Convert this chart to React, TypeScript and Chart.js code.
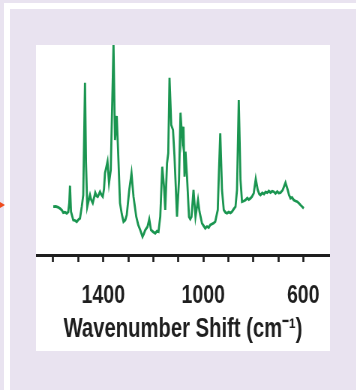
import React, { useEffect, useRef } from "react";
import { Chart, registerables } from "chart.js";

Chart.register(...registerables);

// Raman spectrum: wavenumber shift (cm-1) and relative intensity
const wavenumbers = [
  1600, 1590, 1580, 1573, 1566, 1560, 1553, 1546, 1540, 1536, 1533, 1529, 1520, 1513, 1506, 1499, 1493,
  1486, 1480, 1476, 1473, 1469, 1464, 1456, 1453, 1448, 1442, 1437, 1432, 1427, 1422, 1417, 1413,
  1407, 1402, 1397, 1393, 1383, 1377, 1370, 1359, 1353, 1346, 1342, 1333, 1326, 1319, 1312, 1306,
  1296, 1287, 1279, 1268, 1260, 1252, 1243, 1238, 1232, 1223, 1216, 1209, 1200, 1192, 1185, 1179,
  1172, 1164, 1157, 1152, 1145, 1140, 1135, 1128, 1121, 1115, 1105, 1097, 1091, 1084, 1079, 1075,
  1071, 1065, 1057, 1052, 1047, 1039, 1031, 1021, 1015, 1005, 998, 992, 985, 978, 972, 965, 958,
  952, 942, 937, 932, 925, 918, 911, 905, 898, 891, 885, 878, 871, 865, 858, 851, 845, 838, 831,
  824, 818, 811, 805, 798, 790, 782, 776, 771, 764, 757, 751, 744, 738, 731, 724, 718, 711, 704,
  698, 691, 682, 671, 662, 657, 651, 645, 638, 631, 624, 618, 611, 605, 598,
];
const intensities = [
  48.3, 48.5, 47.7, 46.5, 45, 42.3, 42.8, 41.7, 43, 52, 69.3, 43.3, 35, 34.5, 33.3, 35.5, 36.7,
  48.3, 60, 125, 172.3, 92, 48.3, 57, 60, 55, 52, 57, 62.3, 59, 58.3, 61, 63.3,
  60, 58.3, 66, 82, 93.3, 72, 85, 210, 115, 139, 113.3, 52, 41, 33.3, 35, 40,
  65, 81.7, 58.3, 38.3, 30, 25, 18.3, 21, 25, 28.3, 35.7, 25, 23, 21.7, 24, 23.3,
  38.3, 88.3, 68.3, 45, 91.7, 101.7, 177.3, 130, 125, 98.3, 38.3, 75, 142.3, 115, 128.3, 78.3,
  103.3, 78.3, 38.3, 36, 38.3, 65, 38.3, 55, 43.3, 31.7, 29, 26.7, 28.5, 27.5, 30, 31, 32,
  33.3, 45, 85, 121.7, 65, 45, 42.5, 41.7, 43, 42, 43.3, 46, 48.3, 65, 155, 75, 53.3, 54, 55,
  57, 55.5, 56.7, 58.5, 61.7, 76, 65, 61, 60, 62, 61, 63, 62.3, 64, 62.5, 63.8, 63.3, 61.5, 63.5,
  62, 62.3, 65, 72.3, 65, 60, 56.7, 57.5, 55, 54, 53.3, 52, 50, 48.5, 46.7,
];

const tickValues = [1600, 1500, 1400, 1300, 1200, 1100, 1000, 900, 800, 700, 600];
const labeledTicks = [1400, 1000, 600];
const axisTitle = "Wavenumber Shift (cm\u207B\u00B9)";

const FONT = "'Liberation Sans', Arial, sans-serif";

export default function App() {
  const ref = useRef<HTMLCanvasElement>(null);

  useEffect(() => {
    const points = wavenumbers.map((x, i) => ({ x, y: intensities[i] }));
    const chart = new Chart(ref.current as HTMLCanvasElement, {
      type: "line",
      data: {
        datasets: [
          {
            data: points,
            borderColor: "#1a9550",
            borderWidth: 2.8,
            pointRadius: 0,
            tension: 0,
            fill: false,
          },
        ],
      },
      options: {
        animation: false,
        responsive: false,
        maintainAspectRatio: false,
        layout: { padding: { left: 0, right: 0, top: 0, bottom: 5 } },
        plugins: { legend: { display: false }, tooltip: { enabled: false } },
        scales: {
          x: {
            type: "linear",
            reverse: true,
            min: 493,
            max: 1669,
            afterBuildTicks: (s: any) => {
              s.ticks = tickValues.map((v) => ({ value: v }));
            },
            afterFit: (s: any) => {
              s.height = 91;
              s.paddingLeft = 0;
              s.paddingRight = 0;
            },
            ticks: {
              autoSkip: false,
              maxRotation: 0,
              color: "#1e1e1e",
              padding: 8,
              font: { family: FONT, size: 26, weight: "bold", lineHeight: 2.0 },
              callback: (v: any) => (labeledTicks.includes(Number(v)) ? String(v) : ""),
            },
            grid: {
              drawOnChartArea: false,
              drawTicks: true,
              tickLength: 7,
              tickWidth: 2.7,
              tickColor: "#1e1e1e",
            },
            border: { display: true, color: "#1e1e1e", width: 3 },
            title: {
              display: true,
              text: axisTitle,
              color: "#1e1e1e",
              font: { family: FONT, size: 27, weight: "bold", lineHeight: 1.2 },
              padding: { top: 0, bottom: 0 },
            },
          },
          y: { display: false, min: 0, max: 210 },
        },
      },
    });
    return () => chart.destroy();
  }, []);

  return (
    <div
      style={{
        position: "fixed",
        left: 0,
        top: 0,
        width: 356,
        height: 390,
        background: "#e9e3f0",
        overflow: "hidden",
      }}
    >
      <div style={{ position: "absolute", left: 4, top: 3, width: 6, height: 387, background: "#ffffff" }} />
      <div style={{ position: "absolute", left: 4, top: 3, width: 352, height: 6, background: "#ffffff" }} />
      <div
        style={{
          position: "absolute",
          left: 0,
          top: 202,
          width: 0,
          height: 0,
          borderTop: "3.5px solid transparent",
          borderBottom: "3.5px solid transparent",
          borderLeft: "5px solid #ee4a1c",
        }}
      />
      <div style={{ position: "absolute", left: 36, top: 45, width: 294, height: 306, background: "#ffffff" }}>
        <canvas
          ref={ref}
          width={392}
          height={306}
          style={{ display: "block", width: "294px", height: "306px" }}
        />
      </div>
    </div>
  );
}
